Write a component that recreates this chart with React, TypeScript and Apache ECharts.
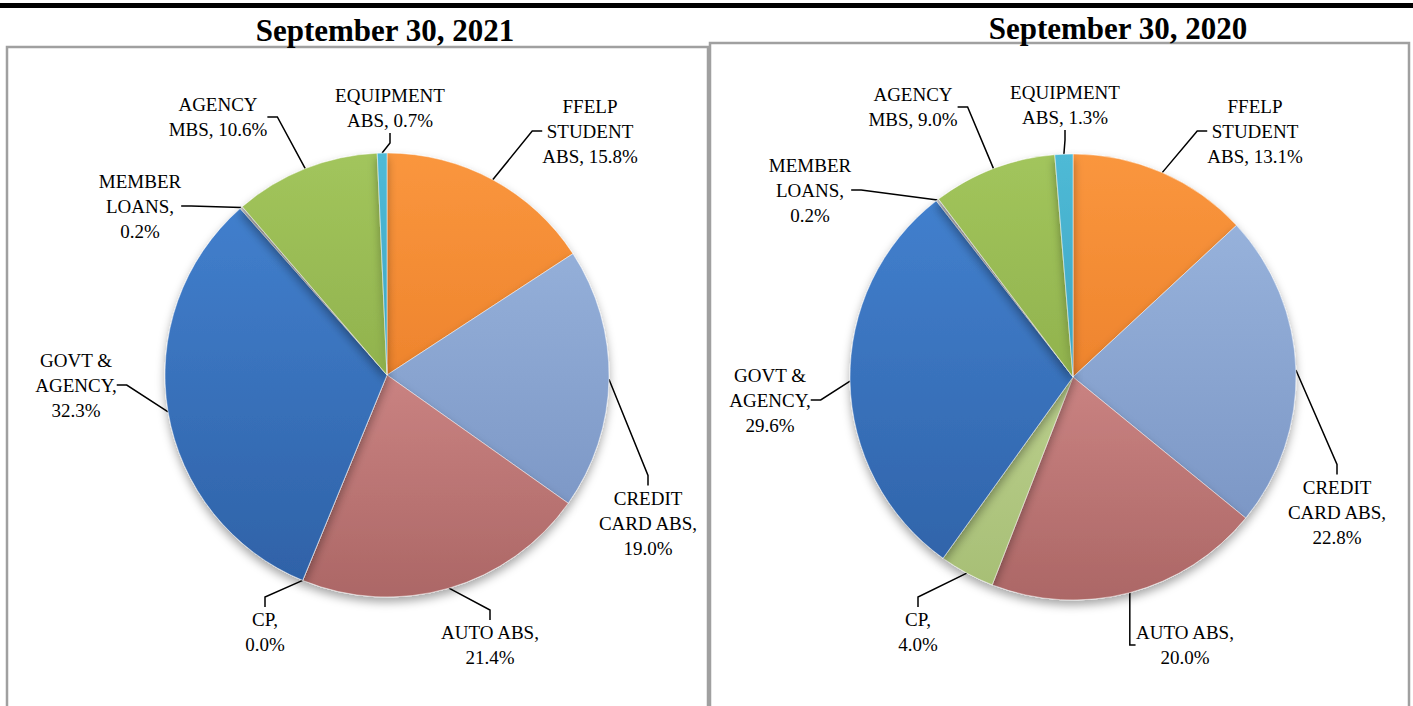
import React, { useEffect, useRef } from "react";
import * as echarts from "echarts";

const categories = [
  "FFELP STUDENT ABS",
  "CREDIT CARD ABS",
  "AUTO ABS",
  "CP",
  "GOVT & AGENCY",
  "MEMBER LOANS",
  "AGENCY MBS",
  "EQUIPMENT ABS",
];
// label line breaks (text presentation only)
const labelNames = [
  "FFELP\nSTUDENT\nABS, ",
  "CREDIT\nCARD ABS,\n",
  "AUTO ABS,\n",
  "CP,\n",
  "GOVT &\nAGENCY,\n",
  "MEMBER\nLOANS,\n",
  "AGENCY\nMBS, ",
  "EQUIPMENT\nABS, ",
];
const values2021 = [15.8, 19.0, 21.4, 0.0, 32.3, 0.2, 10.6, 0.7];
const values2020 = [13.1, 22.8, 20.0, 4.0, 29.6, 0.2, 9.0, 1.3];
const titles = ["September 30, 2021", "September 30, 2020"];

const baseColors = [
  ["#FA963E", "#E2721C"],
  ["#9DB8E0", "#7590C0"],
  ["#E79E9D", "#AC6766"],
  ["#CFE0A6", "#A6BE74"],
  ["#4483D2", "#2E61A6"],
  ["#C8C8C8", "#A0A0A0"],
  ["#A2C55C", "#80A03F"],
  ["#4FBAD6", "#2A90AE"],
];

const pies = [
  { center: [387, 375], r: 222 },
  { center: [1073, 377], r: 223 },
];

// label anchor positions (layout)
const labelPos = [
  [
    [590, 131],
    [648, 523],
    [490, 645],
    [265, 632],
    [76, 385],
    [140, 206],
    [218, 117],
    [390, 108],
  ],
  [
    [1255, 131],
    [1337, 512],
    [1185, 645],
    [918, 632],
    [770, 400],
    [810, 190],
    [913, 107],
    [1065, 105],
  ],
];

function buildSeries(values: number[], idx: number) {
  const { center, r } = pies[idx];
  return {
    type: "pie",
    center,
    radius: r,
    startAngle: 90,
    clockwise: true,
    avoidLabelOverlap: false,
    stillShowZeroSum: true,
    data: values.map((v, i) => ({
      name: categories[i],
      value: v,
      itemStyle: {
        color: {
          type: "linear",
          x: 0,
          y: center[1] - r,
          x2: 0,
          y2: center[1] + r,
          global: true,
          colorStops: [
            { offset: 0, color: baseColors[i][0] },
            { offset: 1, color: baseColors[i][1] },
          ],
        },
      },
    })),
    itemStyle: {
      borderColor: "rgba(255,255,255,0.45)",
      borderWidth: 1,
      shadowColor: "rgba(0,0,0,0.35)",
      shadowBlur: 10,
      shadowOffsetY: 5,
    },
    label: {
      show: true,
      position: "outside",
      formatter: (p: any) => labelNames[p.dataIndex] + p.value.toFixed(1) + "%",
      color: "#000",
      fontFamily: "Liberation Serif",
      fontSize: 19,
      lineHeight: 25,
      align: "center",
    },
    labelLine: {
      show: true,
      length: 15,
      length2: 10,
      lineStyle: { color: "#000", width: 1.5 },
    },
    labelLayout: (params: any) => {
      const p = labelPos[idx][params.dataIndex];
      return { x: p[0], y: p[1], align: "center", verticalAlign: "middle" };
    },
    emphasis: { disabled: true },
  };
}

export default function App() {
  const ref = useRef<HTMLDivElement>(null);
  useEffect(() => {
    if (!ref.current) return;
    const chart = echarts.init(ref.current, undefined, { renderer: "svg" });
    chart.setOption({
      animation: false,
      backgroundColor: "#fff",
      title: [
        {
          text: titles[0],
          left: 380,
          top: 10,
          textAlign: "center",
          textStyle: { fontFamily: "Liberation Serif", fontWeight: "bold", fontSize: 31, color: "#000" },
        },
        {
          text: titles[1],
          left: 1113,
          top: 8,
          textAlign: "center",
          textStyle: { fontFamily: "Liberation Serif", fontWeight: "bold", fontSize: 31, color: "#000" },
        },
      ],
      graphic: [
        { type: "rect", z: -1, shape: { x: 0, y: 3, width: 1413, height: 5 }, style: { fill: "#000" } },
        {
          type: "rect",
          z: -1,
          shape: { x: 7, y: 47, width: 701, height: 680 },
          style: { fill: "#fff", stroke: "#A0A0A0", lineWidth: 2.5 },
        },
        {
          type: "rect",
          z: -1,
          shape: { x: 710, y: 43, width: 699, height: 680 },
          style: { fill: "#fff", stroke: "#A0A0A0", lineWidth: 2.5 },
        },
      ],
      series: [buildSeries(values2021, 0), buildSeries(values2020, 1)],
    });
    return () => chart.dispose();
  }, []);
  return (
    <div
      ref={ref}
      style={{ position: "fixed", left: 0, top: 0, width: 1413, height: 706 }}
    />
  );
}
